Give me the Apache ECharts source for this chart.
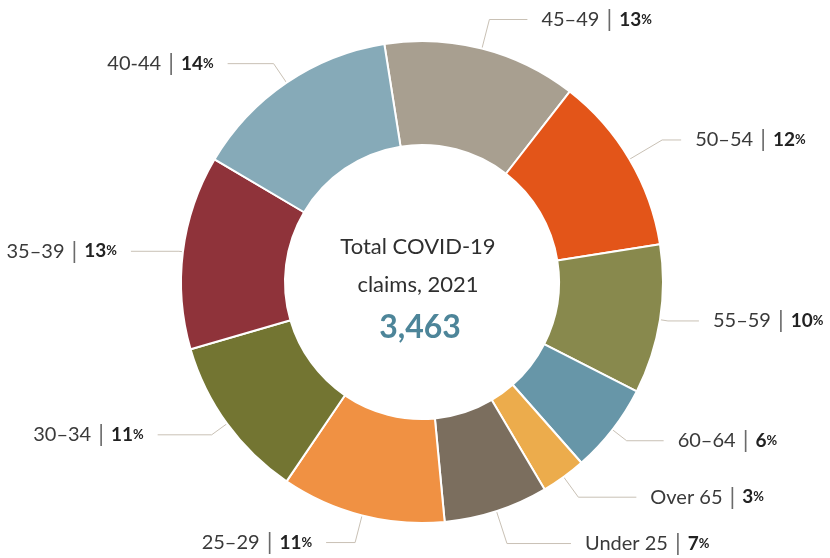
<!DOCTYPE html>
<html>
<head>
<meta charset="utf-8">
<script src="https://cdn.jsdelivr.net/npm/echarts@6/dist/echarts.min.js"></script>
<style>
  html, body { margin: 0; padding: 0; background: #fff; }
  #chart { width: 830px; height: 558px; }
</style>
</head>
<body>
<div id="chart"></div>
<script>
// data (share of claims, %)
var ageGroups = ['45–49', '50–54', '55–59', '60–64', 'Over 65', 'Under 25', '25–29', '30–34', '35–39', '40-44'];
var shares = [13, 12, 10, 6, 3, 7, 11, 11, 13, 14];
var totalClaims = 3463;

// styling per slice (kept apart from the data)
var sliceColors = ['#a89f90', '#e35519', '#88894d', '#6796a8', '#ecac4c', '#7b6e5e', '#f09143', '#737532', '#8f333a', '#86aab8'];
var leaderLen = [30, 38, 8, 18, 25, 34, 28, 19, 4, 23];
var leaderLen2 = [38, 19, 31, 37, 58, 64, 29, 54, 48, 46];

var FONT = 'Lato, "Noto Sans", sans-serif';

var chart = echarts.init(document.getElementById('chart'));

var pieData = [];
for (var i = 0; i < ageGroups.length; i++) {
    pieData.push({
        name: ageGroups[i],
        value: shares[i],
        itemStyle: { color: sliceColors[i] },
        labelLine: { length: leaderLen[i], length2: leaderLen2[i] }
    });
}

var option = {
    animation: false,
    backgroundColor: '#fff',
    textStyle: { fontFamily: FONT },
    graphic: [{
        type: 'text',
        x: 418,
        y: 266,
        style: {
            text: 'Total COVID-19\nclaims, 2021',
            fill: '#2f2f2f',
            font: '22px ' + FONT,
            lineHeight: 38,
            textAlign: 'center',
            textVerticalAlign: 'middle'
        }
    }, {
        type: 'text',
        x: 420,
        y: 328,
        style: {
            text: echarts.format.addCommas(totalClaims),
            fill: '#4d8599',
            font: 'bold 32px ' + FONT,
            textAlign: 'center',
            textVerticalAlign: 'middle'
        }
    }],
    series: [{
        type: 'pie',
        center: [422, 282],
        radius: [137, 241],
        startAngle: 99,
        clockwise: true,
        avoidLabelOverlap: false,
        itemStyle: { borderColor: '#fff', borderWidth: 2 },
        label: {
            show: true,
            position: 'outside',
            distanceToLabelLine: 14,
            formatter: function(p) {
                return '{n|' + p.name + '}{s||}{p|' + p.value + '}{u|%}';
            },
            rich: {
                n: { fontSize: 20, color: '#3a3a3a', fontFamily: FONT },
                s: { fontSize: 23, color: '#6a6a6a', fontFamily: FONT, padding: [0, 7, 0, 7] },
                p: { fontSize: 19, fontWeight: 'bold', color: '#222', fontFamily: FONT },
                u: { fontSize: 13, fontWeight: 'bold', color: '#222', fontFamily: FONT }
            }
        },
        labelLine: {
            show: true,
            lineStyle: { color: '#c9c1b5', width: 1 }
        },
        emphasis: { disabled: true },
        data: pieData
    }]
};

chart.setOption(option);
</script>
</body>
</html>
